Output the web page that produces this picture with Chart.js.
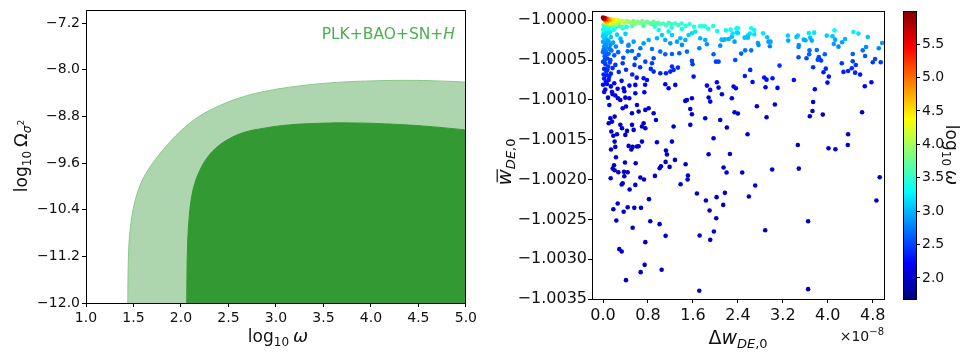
<!DOCTYPE html>
<html lang="en">
<head>
<meta charset="UTF-8">
<title>Omega_sigma2 constraints and w_DE,0 scatter</title>
<script src="https://cdn.jsdelivr.net/npm/chart.js"></script>
<style>
  body { margin: 0; background: #fff; }
  #wrap { position: relative; width: 960px; height: 356px; }
  canvas { position: absolute; top: 0; }
  #contour { left: 0; }
  #scatter { left: 480px; }
  #cbar { left: 890px; }
</style>
</head>
<body>
<div id="wrap">
  <canvas id="contour" width="480" height="356"></canvas>
  <canvas id="scatter" width="410" height="356"></canvas>
  <canvas id="cbar" width="70" height="356"></canvas>
</div>
<script>
// ---- left panel: edges of the 95% (outer) and 68% (inner) regions ----
const omegaOuter = [1.44, 1.443, 1.452, 1.468, 1.49, 1.525, 1.57, 1.63, 1.72, 1.84, 1.99, 2.19, 2.4, 2.62, 2.88, 3.23, 3.6, 4.0, 4.4, 4.7, 5.0];
const sigmaOuter = [-12.0, -11.5, -11.0, -10.7, -10.45, -10.2, -9.98, -9.78, -9.56, -9.32, -9.06, -8.80, -8.62, -8.48, -8.37, -8.28, -8.22, -8.19, -8.18, -8.19, -8.21];
const omegaInner = [2.06, 2.064, 2.072, 2.088, 2.11, 2.145, 2.2, 2.27, 2.37, 2.5, 2.67, 2.88, 3.1, 3.4, 3.8, 4.2, 4.6, 5.0];
const sigmaInner = [-12.0, -11.4, -10.9, -10.5, -10.2, -9.95, -9.72, -9.52, -9.34, -9.19, -9.07, -9.0, -8.95, -8.92, -8.91, -8.93, -8.97, -9.03];

// ---- right panel: [dw_DE,0 (x1e-8), wbar_DE,0, log10 omega] ----
const lowerLeft = [
  [0.142, -1.001623, 2.0], [0.219, -1.001590, 2.0], [0.456, -1.001577, 2.0], [0.527, -1.001590, 2.0],
  [0.504, -1.001623, 2.0], [0.604, -1.001585, 2.0], [0.634, -1.001581, 2.0], [1.120, -1.001636, 2.0],
  [1.138, -1.001686, 2.0], [0.231, -1.001719, 2.0], [0.391, -1.001786, 2.0], [0.581, -1.001795, 2.0],
  [1.114, -1.001778, 2.0], [1.280, -1.001753, 2.0], [1.879, -1.001682, 2.0], [2.258, -1.001678, 2.0],
  [0.196, -1.001820, 2.0], [0.172, -1.001862, 2.0], [0.207, -1.001883, 2.0], [0.273, -1.001908, 2.0],
  [0.373, -1.001903, 2.0], [0.439, -1.001908, 2.0], [0.379, -1.001958, 2.0], [0.136, -1.001983, 2.0],
  [0.664, -1.001975, 2.0], [0.729, -1.002000, 2.0], [1.031, -1.001832, 2.0], [1.007, -1.001857, 2.0],
  [1.185, -1.001841, 2.0], [1.470, -1.001807, 2.0], [2.145, -1.001849, 2.0], [2.199, -1.001912, 2.0],
  [0.924, -1.001954, 2.0], [1.511, -1.001949, 2.0], [1.505, -1.002000, 2.0], [0.350, -1.002046, 1.98],
  [0.332, -1.002062, 1.98], [0.575, -1.002067, 1.98], [0.474, -1.002125, 1.98], [1.381, -1.002058, 1.98],
  [1.671, -1.002175, 1.98], [2.169, -1.002167, 1.98], [2.021, -1.002221, 1.98], [1.831, -1.002263, 1.98],
  [2.139, -1.002318, 1.98], [0.818, -1.002246, 1.98], [0.261, -1.002301, 1.98], [0.184, -1.002372, 1.97],
  [0.439, -1.002347, 1.97], [0.557, -1.002355, 1.97], [0.676, -1.002355, 1.97], [0.367, -1.002405, 1.97],
  [1.896, -1.002389, 1.97], [2.015, -1.002485, 1.97], [0.237, -1.002514, 1.97], [0.841, -1.002523, 1.97],
  [1.007, -1.002560, 1.97], [0.527, -1.002606, 1.97], [1.973, -1.002652, 1.97], [1.114, -1.002707, 1.96],
  [1.719, -1.002702, 1.96], [1.908, -1.002757, 1.96], [0.753, -1.002786, 1.96], [0.290, -1.002874, 1.96],
  [0.332, -1.002903, 1.96], [0.741, -1.003071, 1.96], [0.670, -1.003163, 1.96], [1.043, -1.003133, 1.96],
  [0.409, -1.003263, 1.95], [1.713, -1.003397, 1.95]
];
const lowerRight = [
  [4.136, -1.001619, 2.0], [2.477, -1.001912, 2.0], [3.010, -1.001874, 2.0], [3.484, -1.001862, 2.0],
  [2.708, -1.002075, 1.98], [2.596, -1.002213, 1.98], [4.924, -1.001970, 2.0], [4.865, -1.002263, 1.98],
  [3.650, -1.002523, 1.97], [2.886, -1.002636, 1.97], [3.650, -1.003376, 1.95],
  [2.400, -1.001171, 2.03], [2.738, -1.001079, 2.04], [2.910, -1.001217, 2.02], [3.058, -1.001058, 2.04],
  [3.739, -1.001025, 2.04], [3.727, -1.001138, 2.03], [3.680, -1.001205, 2.02], [3.911, -1.001184, 2.02],
  [4.610, -1.001155, 2.03], [2.572, -1.001431, 2.0], [4.361, -1.001431, 2.0], [3.467, -1.001565, 2.0],
  [4.356, -1.001565, 2.0], [4.012, -1.001606, 2.0]
];
const upperRight = [
  [2.400, -1.000100, 3.3], [2.400, -1.000159, 3.15], [2.637, -1.000100, 3.35], [2.690, -1.000121, 3.3],
  [2.613, -1.000167, 3.2], [2.578, -1.000192, 3.1], [2.519, -1.000218, 3.05], [2.578, -1.000218, 3.05],
  [2.690, -1.000176, 3.2], [2.850, -1.000163, 3.2], [2.921, -1.000213, 3.05], [2.945, -1.000268, 2.9],
  [2.981, -1.000268, 2.9], [2.969, -1.000326, 2.8], [2.756, -1.000284, 2.9], [2.767, -1.000310, 2.85],
  [2.530, -1.000377, 2.7], [2.637, -1.000377, 2.7], [2.459, -1.000418, 2.62], [3.289, -1.000192, 3.1],
  [3.295, -1.000255, 2.95], [3.467, -1.000192, 3.1], [3.443, -1.000209, 3.05], [3.484, -1.000310, 2.85],
  [3.479, -1.000335, 2.8], [3.573, -1.000243, 2.95], [3.603, -1.000251, 2.95], [3.662, -1.000159, 3.2],
  [3.757, -1.000155, 3.2], [3.686, -1.000218, 3.05], [3.716, -1.000255, 2.95], [3.674, -1.000377, 2.7],
  [3.668, -1.000427, 2.62], [3.804, -1.000372, 2.7], [3.982, -1.000192, 3.1], [4.083, -1.000201, 3.05],
  [4.119, -1.000126, 3.3], [4.130, -1.000243, 2.95], [4.107, -1.000297, 2.88], [4.190, -1.000331, 2.8],
  [4.255, -1.000276, 2.9], [4.308, -1.000234, 3.0], [4.456, -1.000146, 3.25], [4.545, -1.000167, 3.2],
  [4.711, -1.000209, 3.05], [4.681, -1.000335, 2.8], [4.622, -1.000377, 2.7], [4.664, -1.000448, 2.6],
  [4.907, -1.000351, 2.78], [4.966, -1.000284, 2.9], [4.444, -1.000423, 2.62], [3.479, -1.000464, 2.55],
  [3.621, -1.000477, 2.55], [3.840, -1.000460, 2.55], [3.852, -1.000485, 2.52], [3.881, -1.000506, 2.5],
  [3.822, -1.000494, 2.52], [3.947, -1.000427, 2.62], [3.964, -1.000607, 2.4], [3.923, -1.000653, 2.35],
  [4.018, -1.000707, 2.32], [3.994, -1.000782, 2.25], [3.739, -1.000590, 2.42], [3.769, -1.000866, 2.18],
  [4.249, -1.000540, 2.45], [4.444, -1.000515, 2.48], [4.498, -1.000561, 2.44], [4.427, -1.000602, 2.4],
  [4.361, -1.000636, 2.36], [4.279, -1.000648, 2.35], [4.486, -1.000657, 2.35], [4.575, -1.000682, 2.33],
  [4.800, -1.000527, 2.47], [4.841, -1.000485, 2.52], [4.942, -1.000527, 2.47], [4.658, -1.000828, 2.2],
  [4.776, -1.000778, 2.24], [3.141, -1.000569, 2.43], [2.619, -1.000623, 2.38], [2.524, -1.000699, 2.32],
  [2.661, -1.000774, 2.25], [2.868, -1.000719, 2.3], [2.910, -1.000745, 2.28], [3.016, -1.000728, 2.3],
  [2.892, -1.000841, 2.2], [3.105, -1.000849, 2.2], [3.396, -1.000749, 2.27],
  [1.724, -1.000075, 3.45], [1.772, -1.000075, 3.45], [1.813, -1.000075, 3.45], [1.873, -1.000105, 3.38],
  [1.961, -1.000071, 3.42], [2.032, -1.000134, 3.3], [2.110, -1.000243, 3.0], [2.169, -1.000239, 3.0],
  [2.187, -1.000126, 3.3], [2.270, -1.000117, 3.3], [2.306, -1.000167, 3.2], [2.377, -1.000100, 3.3]
];
const middle = [
  [0.871, -1.000360, 2.72], [1.019, -1.000393, 2.66], [1.108, -1.000427, 2.62], [1.227, -1.000423, 2.62],
  [1.357, -1.000414, 2.63], [1.493, -1.000393, 2.66], [1.582, -1.000510, 2.5], [1.594, -1.000552, 2.46],
  [1.713, -1.000351, 2.76], [1.849, -1.000301, 2.85], [2.009, -1.000519, 2.5], [2.056, -1.000519, 2.5],
  [1.967, -1.000427, 2.62], [2.086, -1.000318, 2.82], [2.145, -1.000247, 2.95], [2.234, -1.000234, 2.97],
  [2.293, -1.000205, 3.03], [2.353, -1.000498, 2.52], [2.341, -1.000268, 2.9], [2.382, -1.000151, 3.2],
  [1.464, -1.000247, 2.95], [1.523, -1.000184, 3.1], [1.375, -1.000226, 3.0], [1.582, -1.000163, 3.15],
  [1.641, -1.000142, 3.2], [1.730, -1.000226, 3.0], [1.819, -1.000247, 2.95], [1.316, -1.000268, 2.9],
  [1.197, -1.000289, 2.86], [1.404, -1.000309, 2.82], [0.871, -1.000540, 2.46], [0.901, -1.000477, 2.54],
  [0.753, -1.000519, 2.5], [0.634, -1.000435, 2.61], [0.575, -1.000477, 2.55], [0.516, -1.000385, 2.68],
  [0.664, -1.000351, 2.73], [0.723, -1.000289, 2.86], [0.545, -1.000268, 2.9], [0.456, -1.000309, 2.82],
  [0.812, -1.000247, 2.95], [0.960, -1.000226, 3.0], [1.049, -1.000184, 3.1], [1.108, -1.000247, 2.95],
  [1.227, -1.000184, 3.1], [0.990, -1.000121, 3.3], [1.167, -1.000142, 3.25], [1.404, -1.000109, 3.32],
  [0.089, -1.000971, 2.08], [0.113, -1.001063, 2.06], [0.172, -1.000929, 2.1], [0.219, -1.000945, 2.1],
  [0.267, -1.000979, 2.08], [0.308, -1.001000, 2.07], [0.367, -1.000853, 2.16], [0.397, -1.000971, 2.08],
  [0.350, -1.001104, 2.05], [0.409, -1.001083, 2.05], [0.130, -1.001230, 2.02], [0.160, -1.001272, 2.02],
  [0.207, -1.001209, 2.02], [0.101, -1.001293, 2.02], [0.308, -1.001313, 2.01], [0.338, -1.001355, 2.01],
  [0.148, -1.001397, 2.0], [0.184, -1.001450, 2.0], [0.249, -1.001430, 2.0], [0.397, -1.001439, 2.0],
  [0.427, -1.001389, 2.0], [0.516, -1.001313, 2.01], [0.545, -1.001376, 2.0], [0.693, -1.001334, 2.01],
  [0.723, -1.001293, 2.02], [0.753, -1.001355, 2.01], [0.207, -1.001523, 2.0], [0.693, -1.001523, 2.0],
  [0.960, -1.001531, 2.0], [1.227, -1.001523, 2.0], [0.901, -1.001167, 2.03], [0.942, -1.001251, 2.02],
  [0.812, -1.001104, 2.05], [0.634, -1.001146, 2.04], [0.516, -1.001167, 2.03], [0.604, -1.001063, 2.06],
  [0.753, -1.001125, 2.04], [1.256, -1.001334, 2.01], [1.553, -1.001313, 2.01], [1.819, -1.001230, 2.02],
  [2.086, -1.001251, 2.02], [2.204, -1.001347, 2.01], [1.967, -1.001481, 2.0], [1.582, -1.001180, 2.03],
  [1.553, -1.001113, 2.05], [1.493, -1.001000, 2.07], [1.464, -1.001012, 2.07], [1.879, -1.000970, 2.08],
  [1.908, -1.001021, 2.07], [2.116, -1.000929, 2.1], [2.293, -1.000979, 2.08], [2.341, -1.001154, 2.03],
  [2.364, -1.000853, 2.16], [2.323, -1.000832, 2.18], [1.849, -1.000820, 2.19], [1.908, -1.000874, 2.15],
  [2.027, -1.000778, 2.22], [2.056, -1.000845, 2.17], [1.582, -1.000979, 2.08], [1.612, -1.000707, 2.3],
  [1.286, -1.000811, 2.2], [1.167, -1.000853, 2.16], [1.108, -1.000803, 2.2], [1.197, -1.000644, 2.36],
  [1.256, -1.000623, 2.38], [1.333, -1.000594, 2.41], [1.227, -1.000581, 2.42], [1.120, -1.000665, 2.35],
  [1.019, -1.000665, 2.35], [0.901, -1.000644, 2.36], [0.782, -1.000749, 2.27], [0.723, -1.000728, 2.29],
  [0.575, -1.000811, 2.2], [0.735, -1.000903, 2.12], [0.575, -1.000916, 2.11], [0.468, -1.000979, 2.08]
];
const column = [
  [0.01, -1.000060, 3.55], [0.04, -1.000070, 3.50], [0.08, -1.000050, 3.55], [0.12, -1.000080, 3.45],
  [0.02, -1.000100, 3.45], [0.06, -1.000110, 3.40], [0.16, -1.000060, 3.50], [0.22, -1.000090, 3.40],
  [0.28, -1.000070, 3.45], [0.35, -1.000100, 3.35], [0.03, -1.000140, 3.30], [0.09, -1.000130, 3.35],
  [0.19, -1.000120, 3.35], [0.42, -1.000080, 3.40], [0.03, -1.000090, 3.45], [0.00, -1.000120, 3.40],
  [0.07, -1.000160, 3.20], [0.13, -1.000140, 3.30], [0.01, -1.000170, 3.20], [0.05, -1.000190, 3.15],
  [0.11, -1.000160, 3.20], [0.02, -1.000220, 3.05], [0.07, -1.000240, 3.00], [0.14, -1.000210, 3.05],
  [0.25, -1.000180, 3.10], [0.31, -1.000230, 3.00], [0.40, -1.000170, 3.10], [0.00, -1.000200, 3.10],
  [0.00, -1.000270, 2.95], [0.04, -1.000290, 2.90], [0.09, -1.000260, 2.90], [0.13, -1.000310, 2.85],
  [0.02, -1.000330, 2.80], [0.06, -1.000340, 2.80], [0.18, -1.000280, 2.90], [0.23, -1.000330, 2.80],
  [0.33, -1.000270, 2.85], [0.45, -1.000320, 2.80], [0.10, -1.000270, 2.90], [0.05, -1.000310, 2.85],
  [0.01, -1.000370, 2.75], [0.05, -1.000390, 2.70], [0.10, -1.000420, 2.65], [0.03, -1.000450, 2.60],
  [0.08, -1.000480, 2.55], [0.15, -1.000380, 2.70], [0.20, -1.000440, 2.60], [0.27, -1.000400, 2.65],
  [0.36, -1.000470, 2.55], [0.44, -1.000390, 2.65], [0.12, -1.000360, 2.72], [0.00, -1.000400, 2.70],
  [0.06, -1.000430, 2.62], [0.00, -1.000520, 2.50], [0.04, -1.000550, 2.45], [0.09, -1.000580, 2.45],
  [0.02, -1.000610, 2.40], [0.06, -1.000640, 2.40], [0.12, -1.000530, 2.50], [0.17, -1.000600, 2.40],
  [0.01, -1.000680, 2.35], [0.07, -1.000690, 2.35], [0.22, -1.000560, 2.45], [0.28, -1.000650, 2.38],
  [0.35, -1.000540, 2.45], [0.41, -1.000620, 2.40], [0.13, -1.000500, 2.52], [0.03, -1.000500, 2.52],
  [0.08, -1.000620, 2.40], [0.14, -1.000670, 2.36], [0.02, -1.000730, 2.30], [0.05, -1.000770, 2.28],
  [0.00, -1.000810, 2.25], [0.10, -1.000750, 2.28], [0.14, -1.000830, 2.22], [0.04, -1.000870, 2.20],
  [0.20, -1.000790, 2.25], [0.26, -1.000860, 2.20], [0.33, -1.000760, 2.25], [0.38, -1.000890, 2.15],
  [0.47, -1.000820, 2.20], [0.11, -1.000710, 2.32], [0.07, -1.000800, 2.25], [0.02, -1.000900, 2.15],
  [0.16, -1.000900, 2.15], [0.52, -1.000680, 2.35], [0.60, -1.000720, 2.30], [0.66, -1.000590, 2.42],
  [0.85, -1.000610, 2.40], [0.56, -1.000560, 2.45], [0.75, -1.000810, 2.22]
];
const topBand = [
  [0.12, -1.000060, 3.75], [0.20, -1.000070, 3.72], [0.34, -1.000080, 3.68], [0.52, -1.000070, 3.62],
  [0.72, -1.000070, 3.58], [0.92, -1.000080, 3.52], [1.22, -1.000090, 3.45], [1.62, -1.000080, 3.42],
  [1.54, -1.000050, 3.47], [1.47, -1.000070, 3.47], [1.40, -1.000040, 3.52], [1.34, -1.000060, 3.52],
  [1.28, -1.000040, 3.55], [1.22, -1.000050, 3.55], [1.17, -1.000030, 3.60], [1.12, -1.000060, 3.58],
  [1.07, -1.000040, 3.62], [1.02, -1.000050, 3.62], [0.98, -1.000030, 3.66], [0.94, -1.000040, 3.66],
  [0.90, -1.000020, 3.70], [0.86, -1.000050, 3.68], [0.82, -1.000030, 3.72], [0.78, -1.000020, 3.75],
  [0.74, -1.000040, 3.75], [0.70, -1.000010, 3.80], [0.66, -1.000030, 3.80], [0.62, -1.000020, 3.84],
  [0.58, -1.000040, 3.84], [0.54, -1.000010, 3.88], [0.50, -1.000030, 3.90], [0.24, -1.000050, 4.00],
  [0.46, -1.000020, 3.95], [0.42, -1.000010, 4.00], [0.38, -1.000030, 4.05], [0.34, -1.000010, 4.10],
  [0.16, -1.000040, 4.10], [0.30, -1.000020, 4.15], [0.27, -1.000000, 4.22], [0.24, -1.000010, 4.30],
  [0.11, -1.000030, 4.35], [0.21, -0.999995, 4.38], [0.18, -1.000005, 4.45], [0.04, -1.000030, 4.50],
  [0.15, -0.999990, 4.55], [0.07, -1.000020, 4.65], [0.12, -1.000000, 4.70], [0.10, -0.999985, 4.80],
  [0.08, -0.999990, 4.90], [0.05, -1.000000, 5.00], [0.06, -0.999980, 5.10], [0.03, -0.999990, 5.25],
  [0.04, -0.999975, 5.40], [0.01, -0.999980, 5.60], [0.02, -0.999970, 5.75], [0.00, -0.999965, 5.90]
];

const cbMin = 1.685, cbMax = 5.995;
const darkGreen = '#339933', lightGreen = '#aed6ae';
const FONT = '"DejaVu Sans", sans-serif';
Chart.defaults.font.family = FONT;
Chart.defaults.color = '#111';

function clamp01(v) { return Math.max(0, Math.min(1, v)); }
function jet(t) {
  t = clamp01(t);
  const r = clamp01(1.5 - Math.abs(4 * t - 3));
  const g = clamp01(1.5 - Math.abs(4 * t - 2));
  const b = clamp01(1.5 - Math.abs(4 * t - 1));
  return `rgb(${Math.round(r * 255)},${Math.round(g * 255)},${Math.round(b * 255)})`;
}
function norm(v) { return (v - cbMin) / (cbMax - cbMin); }
const minus = s => s.replace('-', '\u2212');

// text made of runs (sub/superscripts, italics)
function fontOf(r) { return `${r.italic ? 'italic ' : ''}${r.size}px ${FONT}`; }
function drawRuns(ctx, runs, x, y, align) {
  let total = 0;
  runs.forEach(r => { ctx.font = fontOf(r); total += ctx.measureText(r.t).width + (r.gap || 0); });
  let cx = align === 'center' ? x - total / 2 : align === 'right' ? x - total : x;
  ctx.textAlign = 'left';
  ctx.textBaseline = 'alphabetic';
  runs.forEach(r => {
    ctx.font = fontOf(r);
    const w = ctx.measureText(r.t).width;
    ctx.fillText(r.t, cx, y + (r.dy || 0));
    if (r.bar) ctx.fillRect(cx + w * 0.2, y - r.size * 0.72, w * 0.8, 1.2);
    cx += w + (r.gap || 0);
  });
}
function drawRotated(ctx, runs, x, y, angle) {
  ctx.save();
  ctx.translate(x, y);
  ctx.rotate(angle);
  drawRuns(ctx, runs, 0, 0, 'center');
  ctx.restore();
}

const align = p => Math.round(p - 0.5) + 0.5;
const framePlugin = {
  id: 'frame',
  afterDraw(chart) {
    const { ctx, chartArea: a } = chart;
    ctx.save();
    ctx.strokeStyle = '#000';
    ctx.lineWidth = 1;
    const l = align(a.left), t = align(a.top), r = align(a.right), b = align(a.bottom);
    ctx.strokeRect(l, t, r - l, b - t);
    ctx.restore();
  }
};

const axisGrid = { drawOnChartArea: false, drawTicks: true, tickLength: 4, color: '#000', lineWidth: 1 };
const axisBorder = { display: true, color: '#000', width: 1 };

// ---- left chart ----
const leftLabels = {
  id: 'leftLabels',
  afterDraw(chart) {
    const ctx = chart.ctx;
    ctx.save();
    ctx.fillStyle = '#111';
    drawRuns(ctx, [
      { t: 'log', size: 17 }, { t: '10', size: 12, dy: 4, gap: 4 }, { t: 'ω', size: 18, italic: true }
    ], 278, 342, 'center');
    drawRotated(ctx, [
      { t: 'log', size: 17 }, { t: '10', size: 12, dy: 4, gap: 4 }, { t: 'Ω', size: 18 },
      { t: 'σ', size: 12, italic: true, dy: 4 }, { t: '2', size: 9, dy: -3 }
    ], 27, 156, -Math.PI / 2);
    ctx.fillStyle = '#4caf50';
    drawRuns(ctx, [
      { t: 'PLK+BAO+SN+', size: 15.5 }, { t: 'H', size: 15.5, italic: true }
    ], 455, 39, 'right');
    ctx.restore();
  }
};

new Chart(document.getElementById('contour'), {
  type: 'line',
  data: {
    datasets: [
      {
        data: omegaInner.map((x, i) => ({ x, y: sigmaInner[i] })),
        fill: 'start', backgroundColor: darkGreen, borderColor: darkGreen, borderWidth: 1,
        pointRadius: 0, tension: 0.4
      },
      {
        data: omegaOuter.map((x, i) => ({ x, y: sigmaOuter[i] })),
        fill: 'start', backgroundColor: lightGreen, borderColor: '#8cc68c', borderWidth: 1,
        pointRadius: 0, tension: 0.4
      }
    ]
  },
  options: {
    responsive: false, animation: false, devicePixelRatio: 1,
    layout: { padding: { top: 10, right: 10, left: 0, bottom: 0 } },
    plugins: { legend: { display: false }, tooltip: { enabled: false } },
    scales: {
      x: {
        type: 'linear', min: 1, max: 5,
        grid: axisGrid, border: axisBorder,
        ticks: { stepSize: 0.5, font: { size: 14 }, padding: 3, maxRotation: 0, autoSkip: false,
                 callback: v => v.toFixed(1) },
        afterFit: s => { s.height = 53; }
      },
      y: {
        type: 'linear', min: -12, max: -6.98,
        grid: axisGrid, border: axisBorder,
        ticks: { stepSize: 0.8, includeBounds: false, font: { size: 14 }, padding: 2, autoSkip: false,
                 callback: v => minus(v.toFixed(1)) },
        afterFit: s => { s.width = 86; }
      }
    }
  },
  plugins: [framePlugin, leftLabels]
});

// ---- right chart ----
const points = [...lowerLeft, ...lowerRight, ...middle, ...upperRight, ...column, ...topBand];

const rightLabels = {
  id: 'rightLabels',
  afterDraw(chart) {
    const ctx = chart.ctx;
    ctx.save();
    ctx.fillStyle = '#111';
    drawRuns(ctx, [
      { t: 'Δ', size: 19 }, { t: 'w', size: 19, italic: true },
      { t: 'DE', size: 13, italic: true, dy: 4 }, { t: ',0', size: 13, dy: 4 }
    ], 258, 344, 'center');
    drawRotated(ctx, [
      { t: 'w', size: 20, italic: true, bar: true },
      { t: 'DE', size: 13, italic: true, dy: 4 }, { t: ',0', size: 13, dy: 4 }
    ], 31, 162, -Math.PI / 2);
    drawRuns(ctx, [{ t: '×10', size: 14 }, { t: '−8', size: 10, dy: -6 }], 404, 341, 'right');
    ctx.restore();
  }
};

new Chart(document.getElementById('scatter'), {
  type: 'scatter',
  data: {
    datasets: [{
      data: points.map(p => ({ x: p[0], y: p[1] })),
      pointBackgroundColor: points.map(p => jet(norm(p[2]))),
      pointBorderWidth: 0, pointRadius: 2.3, pointHoverRadius: 2.3
    }]
  },
  options: {
    responsive: false, animation: false, devicePixelRatio: 1,
    layout: { padding: { top: 11, right: 6, left: 0, bottom: 0 } },
    plugins: { legend: { display: false }, tooltip: { enabled: false } },
    scales: {
      x: {
        type: 'linear', min: -0.196, max: 5.0,
        grid: axisGrid, border: axisBorder,
        ticks: { stepSize: 0.8, includeBounds: false, font: { size: 16 }, padding: 3, maxRotation: 0,
                 autoSkip: false, callback: v => v.toFixed(1) },
        afterFit: s => { s.height = 57; }
      },
      y: {
        type: 'linear', min: -1.0035, max: -0.999883,
        grid: axisGrid, border: axisBorder,
        ticks: { stepSize: 0.0005, includeBounds: false, font: { size: 16 }, padding: 1, autoSkip: false,
                 callback: v => minus(v.toFixed(4)) },
        afterFit: s => { s.width = 112; }
      }
    }
  },
  plugins: [framePlugin, rightLabels]
});

// ---- colour bar ----
const colourBar = {
  id: 'colourBar',
  beforeDatasetsDraw(chart) {
    const { ctx, chartArea: a } = chart;
    const ys = chart.scales.y;
    ctx.save();
    for (let py = Math.floor(a.top); py < Math.ceil(a.bottom); py++) {
      ctx.fillStyle = jet(norm(ys.getValueForPixel(py + 0.5)));
      ctx.fillRect(a.left, py, a.right - a.left, 1);
    }
    ctx.restore();
  },
  afterDraw(chart) {
    const ctx = chart.ctx;
    ctx.save();
    ctx.fillStyle = '#111';
    drawRotated(ctx, [
      { t: 'log', size: 17 }, { t: '10', size: 12, dy: 4, gap: 4 }, { t: 'ω', size: 18, italic: true }
    ], 56, 155, Math.PI / 2);
    ctx.restore();
  }
};

new Chart(document.getElementById('cbar'), {
  type: 'scatter',
  data: { datasets: [{ data: [] }] },
  options: {
    responsive: false, animation: false, devicePixelRatio: 1,
    layout: { padding: { top: 11, right: 0, left: 13, bottom: 57 } },
    plugins: { legend: { display: false }, tooltip: { enabled: false } },
    scales: {
      x: { type: 'linear', display: false, min: 0, max: 1 },
      y: {
        type: 'linear', position: 'right', min: cbMin, max: cbMax,
        grid: axisGrid, border: axisBorder,
        ticks: { stepSize: 0.5, includeBounds: false, font: { size: 14 }, padding: 2, autoSkip: false,
                 callback: v => v.toFixed(1) },
        afterFit: s => { s.width = 44; }
      }
    }
  },
  plugins: [colourBar, framePlugin]
});
</script>
</body>
</html>
